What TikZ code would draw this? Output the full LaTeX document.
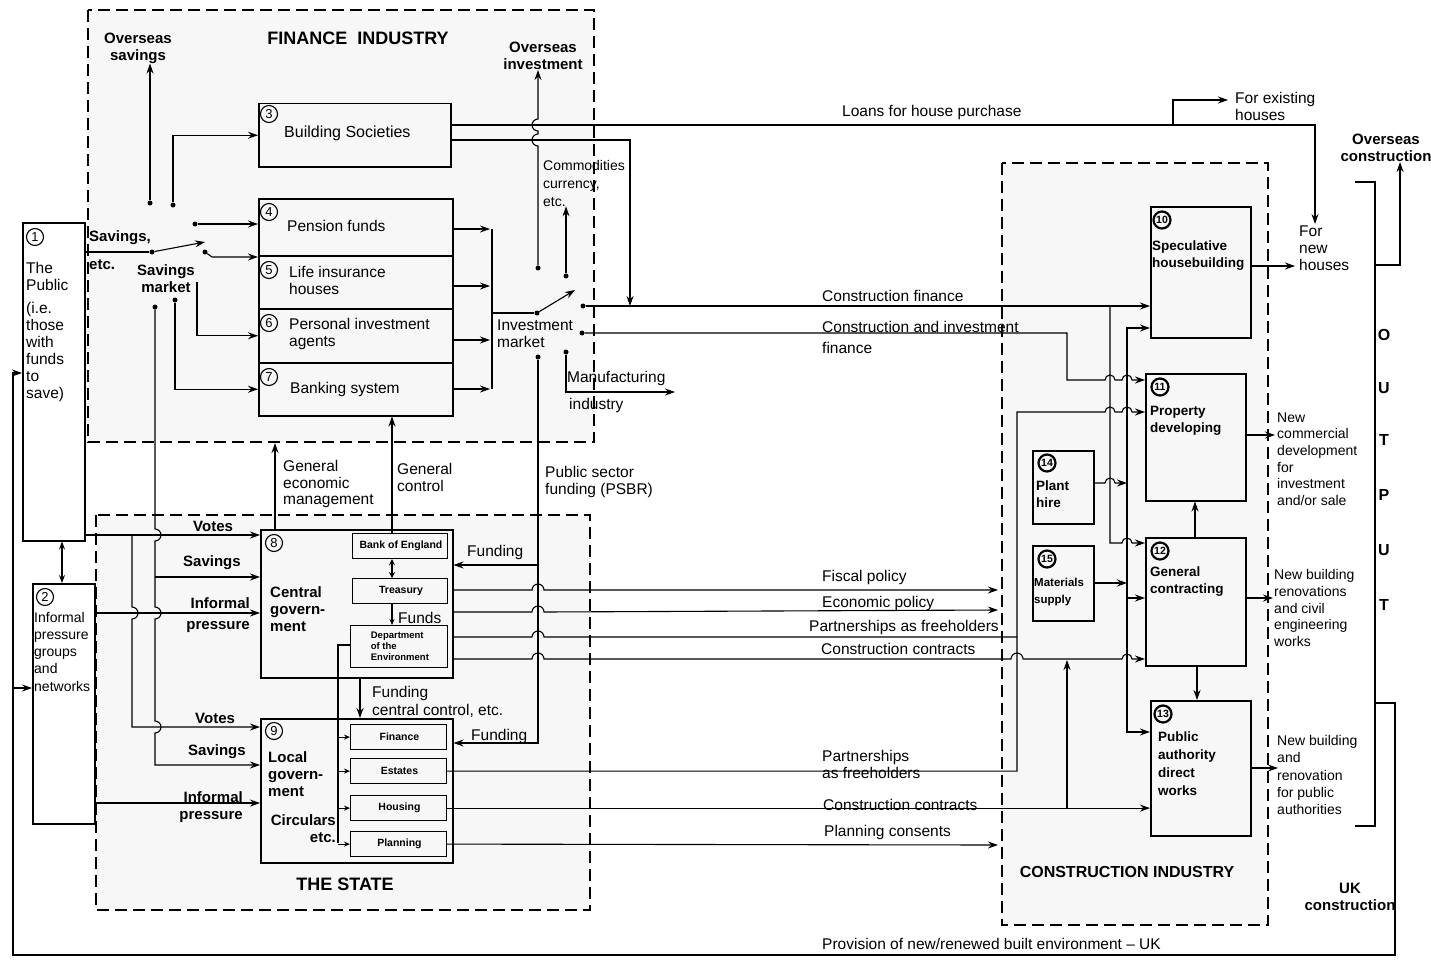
\documentclass[tikz,border=0pt]{standalone}
\usepackage{fontspec}
\setmainfont{Liberation Sans}
\usetikzlibrary{arrows.meta,positioning,calc}

\tikzset{
  zone/.style={draw,line width=1.4pt,dash pattern=on 12pt off 6pt,fill=black!3},
  box/.style={draw,line width=1.5pt,anchor=north west,inner sep=0pt},
  subbox/.style={draw,line width=1.2pt,anchor=north west,inner sep=0pt,font=\fontsize{10.5}{11}\selectfont\bfseries,align=left},
  lab/.style={anchor=west,align=left,inner sep=0pt,font=\fontsize{15.5}{17}\selectfont},
  blab/.style={lab,font=\fontsize{15}{17}\selectfont\bfseries},
  num/.style={circle,draw,line width=1.1pt,inner sep=0pt,minimum size=17pt,font=\fontsize{13}{13}\selectfont},
  numb/.style={num,line width=2.2pt,minimum size=17pt,font=\fontsize{10.5}{10}\selectfont\bfseries},
  sw/.style={circle,fill,inner sep=0pt,minimum size=5pt},
  wire/.style={line width=1.1pt},
  flow/.style={wire,-{Stealth[length=10pt,width=7pt]}},
  tick/.style={wire,-{Stealth[length=6pt,width=5pt]}},
}

\begin{document}
\begin{tikzpicture}[x=1pt,y=-1pt]
\useasboundingbox (0,0) rectangle (1431,963);

% sectors
\draw[zone] (88,10) rectangle (594,442);
\draw[zone] (96,515) rectangle (590,910);
\draw[zone] (1002,163) rectangle (1268,925);
\node[font=\fontsize{18}{18}\selectfont\bfseries] (tfin) at (358,38) {FINANCE\ \ INDUSTRY};
\node[font=\fontsize{18}{18}\selectfont\bfseries] (tst) at (345,884) {THE STATE};
\node[font=\fontsize{16}{16}\selectfont\bfseries] (tci) at (1127,872) {CONSTRUCTION INDUSTRY};

% the public, pressure groups
\node[box,minimum width=62pt,minimum height=318pt] (pub) at (22,222) {};
\node[num] (n1) at (35,237) {1};
\node[lab,anchor=north west] (tpub) at (26,262) {The\\Public\\[6pt](i.e.\\those\\with\\funds\\to\\save)};
\node[box,minimum width=62pt,minimum height=240pt] (prs) at (32,583) {};
\node[num] (n2) at (45,597) {2};
\node[lab,anchor=north west,font=\fontsize{14}{17.2}\selectfont] (tprs) at (34,612) {Informal\\pressure\\groups\\and\\networks};
\draw[wire,{Stealth[length=8pt,width=6pt]}-{Stealth[length=8pt,width=6pt]}] (pub.south -| 62,0) -- (prs.north -| 62,0);

% finance institutions
\node[box,minimum width=192pt,minimum height=63pt] (bs) at (258,103) {};
\node[num] (n3) at (269,114) {3};
\node[lab,font=\fontsize{16}{17}\selectfont] (tbs) at (284,133) {Building Societies};
\node[box,minimum width=194pt,minimum height=57pt] (pf) at (258,198) {};
\node[num] (n4) at (269,212) {4};
\node[lab] (tpf) at (287,226) {Pension funds};
\node[box,minimum width=194pt,minimum height=53pt] (li) at (258,255) {};
\node[num] (n5) at (269,270) {5};
\node[lab] (tli) at (289,280) {Life insurance\\houses};
\node[box,minimum width=194pt,minimum height=54pt] (pi) at (258,308) {};
\node[num] (n6) at (269,323) {6};
\node[lab] (tpi) at (289,334) {Personal investment\\agents};
\node[box,minimum width=194pt,minimum height=53pt] (bk) at (258,362) {};
\node[num] (n7) at (269,377) {7};
\node[lab] (tbk) at (290,389) {Banking system};

% savings market
\node[blab,anchor=center,align=center] (oss) at (138,48) {Overseas\\savings};
\node[blab] (tsv) at (89,238) {Savings,};
\node[blab] (tetc) at (89,265) {etc.};
\node[blab,anchor=center,align=center] (tsm) at (166,279) {Savings\\market};
\node[sw] (sv) at (152,252) {};
\coordinate (svb) at (205,242);
\node[sw] (s1) at (150,203) {};
\node[sw] (s2) at (173,205) {};
\node[sw] (s3) at (195,224) {};
\node[sw] (s4) at (205,252) {};
\coordinate (s5) at (197,282);
\node[sw] (s6) at (175,300) {};
\node[sw] (s7) at (155,307) {};
\draw[wire] (pub.east |- sv) -- (sv);
\draw[flow] (sv) -- (svb);
\draw[flow] (s1) -- (s1 |- oss.south);
\draw[flow] (s2) |- (bs.west);
\draw[flow] (s3) -- (pf.west |- s3);
\draw[flow] (s4) -- ++(7,5) -- (li.west |- 0,257);
\draw[flow] (s5) |- (pi.west);
\draw[flow] (s6) |- (bk.west);

% investment market
\foreach \b/\y in {pf/229,li/286,pi/340,bk/389}
  \draw[flow] (\b.east |- 0,\y) -- (490,\y);
\draw[wire] (492,229) -- (492,389);
\node[sw] (iv) at (537,313) {};
\coordinate (ivb) at (575,290);
\draw[wire] (492,313) -- (iv);
\draw[flow] (iv) -- (ivb);
\node[lab] (tim) at (497,334) {Investment\\market};
\node[sw] (i1) at (538,268) {};
\node[sw] (i2) at (566,276) {};
\node[sw] (i3) at (583,306) {};
\node[sw] (i4) at (582,333) {};
\node[sw] (i5) at (566,352) {};
\node[sw] (i6) at (538,357) {};
\node[blab,anchor=center,align=center] (oin) at (543,56) {Overseas\\investment};
\node[lab,font=\fontsize{14}{18}\selectfont] (com) at (543,183) {Commodities\\currency,\\etc.};
\node[lab] (mfg) at (567,378) {Manufacturing};
\node[lab] (ind) at (569,405) {industry};
\coordinate (mfge) at (675,392);
\draw[flow] (i1) -- (538,146) arc[start angle=270,end angle=90,radius=6pt]
  -- (538,131) arc[start angle=270,end angle=90,radius=6pt] -- (i1 |- oin.south);
\draw[flow] (i2) -- (i2 |- com.south);
\draw[flow] (i5) |- (mfge);

% building society loans
\coordinate (fexe) at (1228,100);
\coordinate (fnhe) at (1315,224);
\node[lab] (tln) at (842,112) {Loans for house purchase};
\node[lab] (fex) at (1235,106) {For existing\\houses};
\node[lab] (fnh) at (1299,248) {For\\new\\houses};
\draw[flow] (bs.east |- 0,125) -| (fnhe);
\draw[flow] (1173,125) |- (fexe);
\draw[flow] (bs.east |- 0,140) -| (i3 -| 630,0);

% construction industry
\node[box,minimum width=100pt,minimum height=131pt] (sh) at (1150,206) {};
\node[numb] (n10) at (1162,220) {10};
\node[blab,font=\fontsize{13.5}{17}\selectfont\bfseries] (tsh) at (1152,256) {Speculative\\housebuilding};
\node[box,minimum width=100pt,minimum height=127pt] (pd) at (1145,373) {};
\node[numb] (n11) at (1160,387) {11};
\node[blab,font=\fontsize{13.5}{17}\selectfont\bfseries] (tpd) at (1150,421) {Property\\developing};
\node[box,minimum width=100pt,minimum height=128pt] (gc) at (1145,537) {};
\node[numb] (n12) at (1160,551) {12};
\node[blab,font=\fontsize{13.5}{17}\selectfont\bfseries] (tgc) at (1150,582) {General\\contracting};
\node[box,minimum width=100pt,minimum height=135pt] (pa) at (1150,700) {};
\node[numb] (n13) at (1163,714) {13};
\node[blab,font=\fontsize{13.5}{18}\selectfont\bfseries] (tpa) at (1158,764) {Public\\authority\\direct\\works};
\node[box,minimum width=61pt,minimum height=73pt] (ph) at (1032,450) {};
\node[numb] (n14) at (1047,463) {14};
\node[blab,font=\fontsize{13.5}{17}\selectfont\bfseries] (tph) at (1036,494) {Plant\\hire};
\node[box,minimum width=61pt,minimum height=75pt] (ms) at (1032,545) {};
\node[numb] (n15) at (1047,559) {15};
\node[blab,font=\fontsize{11.5}{17}\selectfont\bfseries] (tms) at (1034,592) {Materials\\supply};

\node[lab] (tcf) at (822,296) {Construction finance};
\node[lab,font=\fontsize{15.5}{21}\selectfont] (tcif) at (822,337) {Construction and investment\\finance};
\draw[flow] (i3) -- (sh.west |- i3);
\draw[flow] (i4) -- (1067,333) -- (1067,380) -- (1105,380) arc[start angle=180,end angle=0,radius=5pt]
  -- (1122,380) arc[start angle=180,end angle=0,radius=5pt] -- (pd.west |- 0,380);
\draw[flow] (1110,306) -- (1110,543) -- (1122,543) arc[start angle=180,end angle=0,radius=5pt] -- (gc.west |- 0,543);
\draw[wire,{Stealth[length=10pt,width=7pt]}-{Stealth[length=10pt,width=7pt]}] (sh.west |- 0,328) -| (1127,530) |- (pa.west |- 0,732);
\draw[flow] (ph.east |- 0,483) -- (1105,483) arc[start angle=180,end angle=0,radius=5pt] -- (1127,483);
\draw[flow] (ms.east |- 0,583) -- (1127,583);
\draw[flow] (1127,598) -- (gc.west |- 0,598);
\draw[flow] (gc.north -| 1195,0) -- (pd.south -| 1195,0);
\draw[flow] (gc.south -| 1197,0) -- (pa.north -| 1197,0);

% the state
\node[box,minimum width=192pt,minimum height=148pt] (cg) at (260,529) {};
\node[num] (n8) at (274,543) {8};
\node[blab] (tcg) at (270,609) {Central\\govern-\\ment};
\node[subbox,minimum width=95pt,minimum height=25pt] (boe) at (352,533) {\,Bank of England};
\node[subbox,minimum width=95pt,minimum height=25pt] (tre) at (352,578) {\,Treasury};
\node[subbox,minimum width=97pt,minimum height=42pt,font=\fontsize{9.5}{11}\selectfont\bfseries] (doe) at (350,625) {\,Department\\\,of the\\\,Environment};
\node[box,minimum width=192pt,minimum height=144pt] (lg) at (260,718) {};
\node[num] (n9) at (274,731) {9};
\node[blab] (tlg) at (268,774) {Local\\govern-\\ment};
\node[blab,anchor=east,align=right] (tcir) at (336,829) {Circulars\\etc.};
\node[subbox,minimum width=96pt,minimum height=25pt] (fin) at (350,724) {\,Finance};
\node[subbox,minimum width=96pt,minimum height=25pt] (est) at (350,758) {\,Estates};
\node[subbox,minimum width=96pt,minimum height=25pt] (hou) at (350,795) {\,Housing};
\node[subbox,minimum width=96pt,minimum height=25pt] (pln) at (350,831) {\,Planning};
\draw[wire,{Stealth[length=6pt,width=6pt]}-{Stealth[length=6pt,width=6pt]}] (boe.south -| 392,0) -- (tre.north -| 392,0);
\draw[tick] (tre.south -| 392,0) -- (doe.north -| 392,0);
\node[lab] (tfu) at (398,618) {Funds};
\draw[flow] (cg.south -| 360,0) -- (lg.north -| 360,0);
\node[lab,font=\fontsize{15.5}{18}\selectfont] (tfcc) at (372,702) {Funding\\central control, etc.};
\draw[wire] (doe.west |- 0,645) -- (338,645) -- (338,843);
\foreach \s in {fin,est,hou,pln}
  \draw[tick] (\s.west -| 338,0) -- (\s.west);

% state to finance
\coordinate (geme) at (275,443);
\draw[flow] (cg.north -| 275,0) -- (geme);
\node[lab,font=\fontsize{15.5}{16.5}\selectfont] (tgem) at (283,484) {General\\economic\\management};
\draw[flow] (boe.north -| 392,0) -- (bk.south -| 392,0);
\node[lab] (tgco) at (397,477) {General\\control};
\draw[flow] (i6) |- (lg.east |- 0,743);
\draw[flow] (538,565) -- (cg.east |- 0,565);
\node[lab] (tpsbr) at (545,482) {Public sector\\funding (PSBR)};
\node[lab] (tfd1) at (467,552) {Funding};
\node[lab] (tfd2) at (471,736) {Funding};

% public to state
\node[blab] (tv1) at (193,526) {Votes};
\node[blab] (ts1) at (183,563) {Savings};
\node[blab,anchor=east,align=right] (tip1) at (250,615) {Informal\\[4pt]pressure};
\node[blab] (tv2) at (195,718) {Votes};
\node[blab] (ts2) at (188,752) {Savings};
\node[blab,anchor=east,align=right] (tip2) at (243,807) {Informal\\pressure};
\draw[flow] (pub.east |- 0,535) -- (cg.west |- 0,535);
\draw[flow] (prs.east |- 0,613) -- (cg.west |- 0,613);
\draw[flow] (prs.east |- 0,803) -- (lg.west |- 0,803);
\draw[flow] (132,535) -- (132,607) arc[start angle=90,end angle=-90,radius=6pt] -- (132,727) -- (lg.west |- 0,727);
\draw[flow] (s7) -- (155,529) arc[start angle=90,end angle=-90,radius=6pt] -- (155,607)
  arc[start angle=90,end angle=-90,radius=6pt] -- (155,721)
  arc[start angle=90,end angle=-90,radius=6pt] |- (lg.west |- 0,765);
\draw[flow] (155,577) -- (cg.west |- 0,577);

% state to construction
\node[lab] (tfp) at (822,577) {Fiscal policy};
\node[lab] (tep) at (822,603) {Economic policy};
\node[lab] (tpf1) at (809,627) {Partnerships as freeholders};
\node[lab] (tcc1) at (821,649) {Construction contracts};
\node[lab] (tpf2) at (822,764) {Partnerships\\as freeholders};
\node[lab] (tcc2) at (823,805) {Construction contracts};
\node[lab] (tpc) at (824,832) {Planning consents};
\coordinate (fpe) at (998,590);
\coordinate (epe) at (998,610);
\coordinate (pce) at (998,845);
\draw[flow] (cg.east |- 0,590) -- (532,590) arc[start angle=180,end angle=0,radius=6pt] -- (fpe);
\draw[flow] (cg.east |- 0,612) -- (532,612) arc[start angle=180,end angle=0,radius=6pt] -- (epe);
\draw[wire] (cg.east |- 0,637) -- (532,637) arc[start angle=180,end angle=0,radius=6pt] -- (1017,637);
\draw[flow] (cg.east |- 0,659) -- (532,659) arc[start angle=180,end angle=0,radius=6pt]
  -- (1011,659) arc[start angle=180,end angle=0,radius=6pt]
  -- (1122,659) arc[start angle=180,end angle=0,radius=5pt] -- (gc.west |- 0,659);
\draw[flow] (est.east) -| (1017,412) -- (1105,412) arc[start angle=180,end angle=0,radius=5pt]
  -- (1122,412) arc[start angle=180,end angle=0,radius=5pt] -- (pd.west |- 0,412);
\draw[flow] (hou.east) -- (pa.west |- hou.east);
\draw[flow] (1067,808) -- (1067,660);
\draw[flow] (pln.east) -- (pce);

% output
\coordinate (o1) at (1295,266);
\coordinate (o2) at (1275,435);
\coordinate (o3) at (1273,598);
\coordinate (o4) at (1278,768);
\draw[flow] (sh.east |- o1) -- (o1);
\draw[flow] (pd.east |- o2) -- (o2);
\draw[flow] (gc.east |- o3) -- (o3);
\draw[flow] (pa.east |- o4) -- (o4);
\node[lab,font=\fontsize{14}{16.6}\selectfont] (tnc) at (1277,459) {New\\commercial\\development\\for\\investment\\and/or sale};
\node[lab,font=\fontsize{14}{16.8}\selectfont] (tnb) at (1274,608) {New building\\renovations\\and civil\\engineering\\works};
\node[lab,font=\fontsize{14}{17.2}\selectfont] (tnr) at (1277,775) {New building\\and\\renovation\\for public\\authorities};
\draw[wire] (1355,182) -- (1375,182) -- (1375,826) -- (1355,826);
\node[blab,anchor=center,align=center] (osc) at (1386,148) {Overseas\\construction};
\draw[flow] (1375,265) -| (osc.south -| 1400,0);
\foreach \l/\y in {O/335,U/388,T/440,P/495,U/550,T/605}
  \node[blab,anchor=center,font=\fontsize{16}{17}\selectfont\bfseries] (out\y) at (1384,\y) {\l};
\node[blab,anchor=center,align=center] (tuk) at (1350,897) {UK\\construction};
\node[lab] (tprov) at (822,944) {Provision of new/renewed built environment -- UK};
\draw[flow] (1375,703) -- (1395,703) -- (1395,955) -- (13,955) -- (13,373) -- (pub.west |- 0,373);
\draw[flow] (13,688) -- (prs.west |- 0,688);
\end{tikzpicture}
\end{document}
